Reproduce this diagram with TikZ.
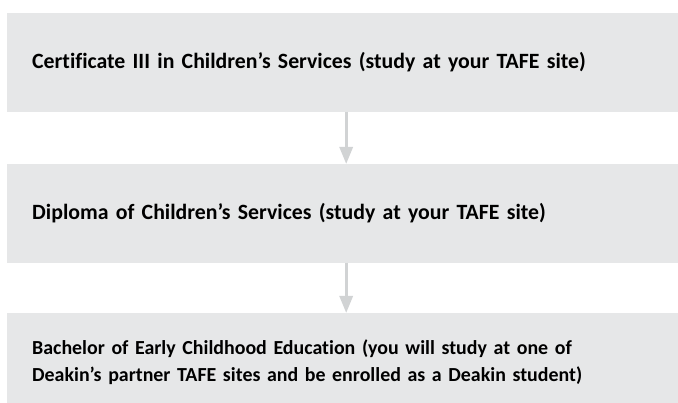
\documentclass[tikz,border=0pt]{standalone}
\usepackage{fontspec}
\setmainfont{Carlito}[Ligatures=NoCommon]
\usetikzlibrary{arrows.meta}
\definecolor{boxgray}{HTML}{E6E7E8}
\definecolor{arrowgray}{HTML}{D1D3D4}
\begin{document}
\begin{tikzpicture}[x=1pt,y=1pt,
  stepbox/.style={fill=boxgray, draw=none, anchor=north west, text width=628pt,
    inner xsep=25pt, inner ysep=0pt, minimum height=98.5pt, align=left,
    font=\bfseries\fontsize{21.8}{27}\selectfont},
  smalltext/.style={font=\bfseries\fontsize{19.9}{27}\selectfont},
  flow/.style={draw=arrowgray, line width=3pt, -{Triangle[width=13pt,length=17pt]}}]
\useasboundingbox (0,0) rectangle (678,-403);
\clip (0,0) rectangle (678,-403);
\node[stepbox] (b1) at (7,-13) {Certificate III in Children’s Services (study at your TAFE site)};
\node[stepbox] (b2) at (7,-164) {Diploma of Children’s Services (study at your TAFE site)};
\node[stepbox, smalltext] (b3) at (7,-313) {Bachelor of Early Childhood Education (you will study at one of\\Deakin’s partner TAFE sites and be enrolled as a Deakin student)};
\draw[flow] (b1.south) -- (b2.north);
\draw[flow] (b2.south) -- (b3.north);
\end{tikzpicture}
\end{document}
